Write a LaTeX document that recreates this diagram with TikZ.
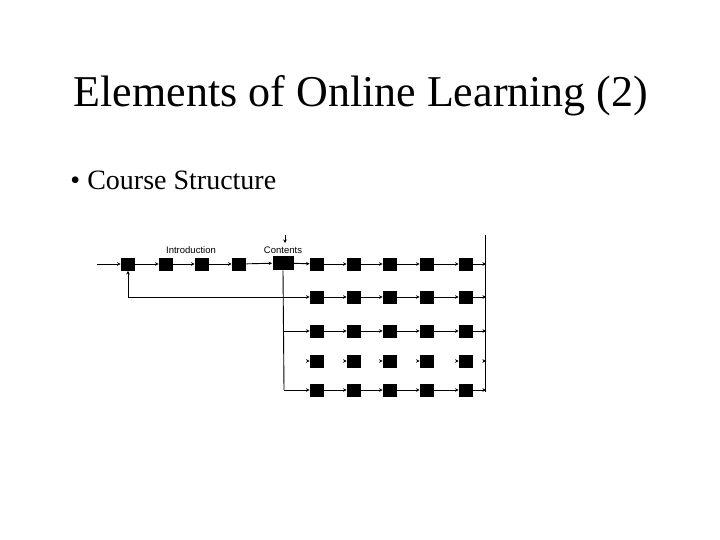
\documentclass[tikz,border=0pt]{standalone}
\usepackage{fontspec}
\setmainfont{Liberation Serif}
\newfontfamily\labelfont{Liberation Sans}
\usetikzlibrary{arrows.meta}

\begin{document}
\begin{tikzpicture}[x=1pt,y=-1pt,line width=0.9pt,
    >={Stealth[length=3.5pt,width=3.5pt]},
    box/.style={fill=black,minimum width=14pt,minimum height=13pt,inner sep=0pt},
    bigbox/.style={box,minimum width=21pt,minimum height=14pt},
    lbl/.style={font=\labelfont\fontsize{9.5}{10}\selectfont,inner sep=0pt}]
        \useasboundingbox (0,0) rectangle (720,540);

        \node[anchor=base,font=\fontsize{44}{50}\selectfont] (title) at (361,107)
        {Elements of Online Learning (2)};
        \node[anchor=base west,font=\fontsize{28}{32}\selectfont,inner sep=0pt] (item) at (70,190)
        {\textbullet\ Course Structure};

        % introduction row
        \coordinate (in) at (97,264);
        \node[box] (i1) at (128,264) {}; \node[box] (i2) at (166,264) {};
        \node[box] (i3) at (202,264) {}; \node[box] (i4) at (239,264) {};
        \node[bigbox] (cont) at (283,263) {};
        \node[lbl] (intro) at (191,250) {Introduction};
        \node[lbl] (contl) at (283,250) {Contents};
        \coordinate (ct) at (285,235); \coordinate (cb) at (285,243);

        % content grid
        \node[box] (a1) at (317,264) {}; \node[box] (a2) at (354,264) {};
        \node[box] (a3) at (390,264) {}; \node[box] (a4) at (427,264) {};
        \node[box] (a5) at (466,264) {};
        \node[box] (b1) at (317,297) {}; \node[box] (b2) at (354,297) {};
        \node[box] (b3) at (390,297) {}; \node[box] (b4) at (427,297) {};
        \node[box] (b5) at (466,297) {};
        \node[box] (c1) at (317,331) {}; \node[box] (c2) at (354,331) {};
        \node[box] (c3) at (390,331) {}; \node[box] (c4) at (427,331) {};
        \node[box] (c5) at (466,331) {};
        \node[box] (d1) at (317,361) {}; \node[box] (d2) at (354,361) {};
        \node[box] (d3) at (390,361) {}; \node[box] (d4) at (427,361) {};
        \node[box] (d5) at (466,361) {};
        \node[box] (e1) at (317,390) {}; \node[box] (e2) at (354,390) {};
        \node[box] (e3) at (390,390) {}; \node[box] (e4) at (427,390) {};
        \node[box] (e5) at (466,390) {};

        \coordinate (jb) at (284,297); \coordinate (jc) at (284,331);
        \coordinate (je) at (284,390);
        \coordinate (ra) at (486,264); \coordinate (rb) at (486,297);
        \coordinate (rc) at (486,331); \coordinate (rd) at (486,361);
        \coordinate (re) at (486,390);
        \coordinate (rt) at (485,235); \coordinate (rbot) at (485,392);

        \draw[->] (ct) -- (cb);
        \draw[->] (in) -- (i1); \draw[->] (i1) -- (i2); \draw[->] (i2) -- (i3);
        \draw[->] (i3) -- (i4); \draw[->] (i4) -- (cont);
        \draw (cont.south) -- (je);
        \draw[->] (jb) -| (i1);

        \draw (rt) -- (rbot);

        \draw[->] (cont) -- (a1); \draw[->] (a1) -- (a2); \draw[->] (a2) -- (a3);
        \draw[->] (a3) -- (a4); \draw[->] (a4) -- (a5); \draw[->] (a5) -- (ra);
        \draw[->] (jb) -- (b1); \draw[->] (b1) -- (b2); \draw[->] (b2) -- (b3);
        \draw[->] (b3) -- (b4); \draw[->] (b4) -- (b5); \draw[->] (b5) -- (rb);
        \draw[->] (jc) -- (c1); \draw[->] (c1) -- (c2); \draw[->] (c2) -- (c3);
        \draw[->] (c3) -- (c4); \draw[->] (c4) -- (c5); \draw[->] (c5) -- (rc);
        \draw[->] (je) -- (e1); \draw[->] (e1) -- (e2); \draw[->] (e2) -- (e3);
        \draw[->] (e3) -- (e4); \draw[->] (e4) -- (e5); \draw[->] (e5) -- (re);

        % only the tips on this row
        \draw[->] ([xshift=-3pt]d1.west) -- (d1); \draw[->] ([xshift=-3pt]d2.west) -- (d2);
        \draw[->] ([xshift=-3pt]d3.west) -- (d3); \draw[->] ([xshift=-3pt]d4.west) -- (d4);
        \draw[->] ([xshift=-3pt]d5.west) -- (d5); \draw[->] ([xshift=-3pt]rd) -- (rd);
      \end{tikzpicture}
\end{document}
